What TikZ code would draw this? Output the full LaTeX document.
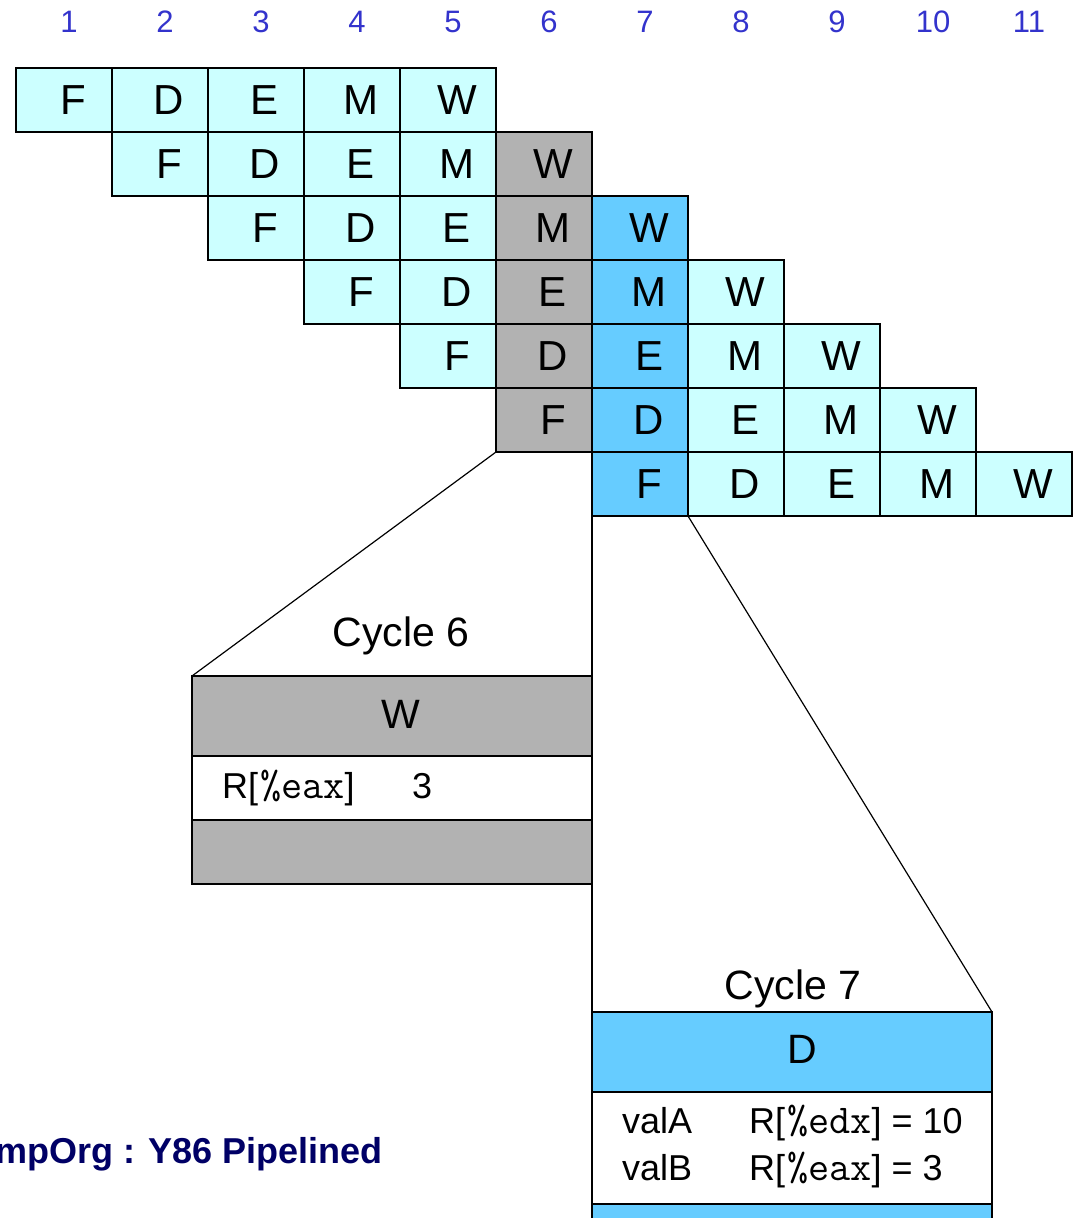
\documentclass[tikz,border=0pt]{standalone}
\usepackage{fontspec}
\setmainfont{Liberation Sans}
\usetikzlibrary{calc}
\definecolor{cyanl}{HTML}{CCFFFF}
\definecolor{grayc}{HTML}{B2B2B2}
\definecolor{bluec}{HTML}{66CCFF}
\definecolor{numblue}{HTML}{3333CC}
\definecolor{navy}{HTML}{000066}
\newcommand\regmono{\hspace{2pt}\fontsize{41}{41}\selectfont\ttfamily}
\begin{document}
\begin{tikzpicture}[x=1pt,y=-1pt,
  cell/.style={draw, line width=2pt, minimum width=96pt, minimum height=64pt, inner sep=0pt, outer sep=0pt},
  celltxt/.style={anchor=base, inner sep=0pt, font=\fontsize{42}{42}\selectfont},
  num/.style={anchor=base, inner sep=0pt, text=numblue, font=\fontsize{31}{31}\selectfont},
  lbl/.style={anchor=base, inner sep=0pt, font=\fontsize{41}{41}\selectfont},
  rowtxt/.style={anchor=base west, inner sep=0pt, font=\fontsize{36}{36}\selectfont},
  zoomline/.style={line width=1.2pt}]
\useasboundingbox (0,0) rectangle (1076,1218);
\clip (0,0) rectangle (1076,1218);
% cycle numbers
\foreach \i in {1,...,11} \node[num] (n\i) at ({69+96*(\i-1)},32) {\i};
% pipeline grid
\foreach \r in {1,...,7}{
  \foreach \s [count=\k from 0] in {F,D,E,M,W}{
    \pgfmathtruncatemacro\c{\r+\k}
    \ifnum\c=6 \def\fc{grayc}\else\ifnum\c=7 \def\fc{bluec}\else\def\fc{cyanl}\fi\fi
    \node[cell, fill=\fc] (c\r-\c) at ({64+96*(\c-1)},{100+64*(\r-1)}) {};
    \node[celltxt] (t\r-\c) at ($(c\r-\c.center)+(9,14)$) {\s};
  }
}
% cycle 6 box
\node[cell, fill=grayc, minimum width=400pt, minimum height=80pt] (b6h) at (392,716) {};
\node[cell, fill=white, minimum width=400pt, minimum height=64pt] (b6m) at (392,788) {};
\node[cell, fill=grayc, minimum width=400pt, minimum height=64pt] (b6b) at (392,852) {};
% cycle 7 box
\node[cell, fill=bluec, minimum width=400pt, minimum height=80pt] (b7h) at (792,1052) {};
\node[cell, fill=white, minimum width=400pt, minimum height=112pt] (b7m) at (792,1148) {};
\node[cell, fill=bluec, minimum width=400pt, minimum height=64pt] (b7b) at (792,1236) {};
% zoom connectors
\draw[zoomline] (c6-6.south west) -- (b6h.north west);
\draw[zoomline] (c7-7.south west) -- (b7h.north west);
\draw[zoomline] (c7-7.south east) -- (b7h.north east);
% labels
\node[lbl] (cy6) at (401,646) {Cycle 6};
\node[lbl] (cy7) at (793,999) {Cycle 7};
\node[lbl] (h6) at (401,728) {W};
\node[lbl] (h7) at (802,1063) {D};
\node[rowtxt] (r6a) at (222,798) {R[{\regmono\%eax}]};
\node[rowtxt] (r6b) at (412,798) {3};
\node[rowtxt] (r7a) at (622,1133) {valA};
\node[rowtxt] (r7b) at (749,1133) {R[{\regmono\%edx}] = 10};
\node[rowtxt] (r7c) at (622,1180) {valB};
\node[rowtxt] (r7d) at (749,1180) {R[{\regmono\%eax}] = 3};
% footer
\node[anchor=base east, inner sep=0pt, text=navy, font=\bfseries\fontsize{36}{36}\selectfont] (foot) at (383,1163) {mpOrg : Y86 Pipelined};
\end{tikzpicture}
\end{document}
